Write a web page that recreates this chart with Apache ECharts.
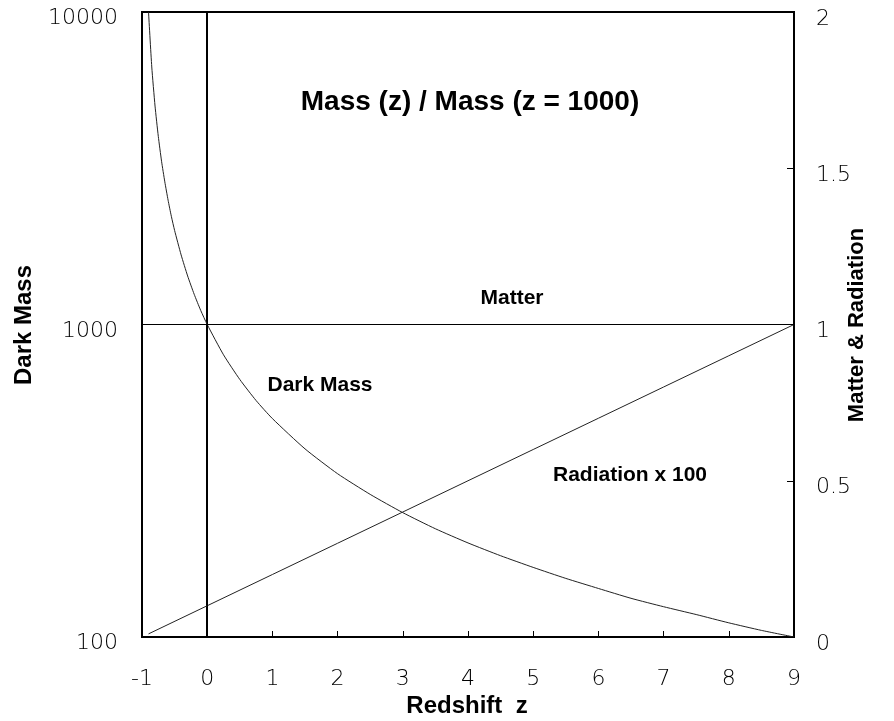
<!DOCTYPE html>
<html>
<head>
<meta charset="utf-8">
<script src="https://cdn.jsdelivr.net/npm/echarts@6/dist/echarts.min.js"></script>
<style>
html,body{margin:0;padding:0;background:#fff;}
#chart{width:894px;height:721px;}
</style>
</head>
<body>
<div id="chart"></div>
<script>
// Redshift z values and readings from the picture
const darkMassZ = [-0.9,-0.85,-0.8,-0.75,-0.7,-0.65,-0.6,-0.55,-0.5,-0.4,-0.3,-0.2,-0.1,0,0.25,0.5,0.75,1,1.5,2,2.5,3,3.5,4,4.5,5,5.5,6,6.5,7,7.5,8,8.5,9];
const darkMassValues = [10000,6670,5000,4000,3330,2860,2500,2220,2000,1670,1430,1250,1110,1000,800,667,571,500,400,333,286,250,222,200,182,167,154,143,133,125,118,111,105,100];
const radiationZ = [-0.9,0,1,2,3,4,5,6,7,8,9];
const radiationValues = [0.01,0.1,0.2,0.3,0.4,0.5,0.6,0.7,0.8,0.9,1.0];
const matterZ = [-1,9];
const matterValues = [1,1];
const xTicks = [-1,0,1,2,3,4,5,6,7,8,9];
const leftTicks = [100,1000,10000];
const rightTicks = [0,0.5,1,1.5,2];

const chart = echarts.init(document.getElementById('chart'));
const tickFont = {fontFamily:'DejaVu Sans', fontWeight:200, fontSize:22, color:'#000'};
const boldFont = 'Liberation Sans, Arial, sans-serif';

function pairs(xs, ys){ return xs.map((x,i)=>[x, ys[i]]); }

chart.setOption({
  animation:false,
  backgroundColor:'#fff',
  grid:{left:142, right:100, top:12, bottom:84, show:true, borderColor:'#000', borderWidth:2},
  xAxis:{
    type:'value', min:xTicks[0], max:xTicks[xTicks.length-1], interval:1,
    axisLine:{onZero:false, lineStyle:{color:'#000', width:2}},
    axisTick:{inside:true, length:6, lineStyle:{color:'#000', width:1}},
    axisLabel:Object.assign({margin:31}, tickFont),
    splitLine:{show:false}
  },
  yAxis:[
    {
      type:'log', logBase:10, min:leftTicks[0], max:leftTicks[leftTicks.length-1], position:'left',
      axisLine:{show:true, lineStyle:{color:'#000', width:2}},
      axisTick:{show:false},
      axisLabel:Object.assign({margin:24, verticalAlign:'top', lineHeight:13, formatter:function(v){return String(Math.round(v));}}, tickFont),
      splitLine:{show:false}
    },
    {
      type:'value', min:rightTicks[0], max:rightTicks[rightTicks.length-1], interval:0.5, position:'right',
      axisLine:{show:true, lineStyle:{color:'#000', width:2}},
      axisTick:{show:true, inside:true, length:7, lineStyle:{color:'#000', width:1}},
      axisLabel:Object.assign({margin:22, verticalAlign:'top', lineHeight:14}, tickFont),
      splitLine:{show:false}
    }
  ],
  series:[
    {
      name:'Dark Mass', type:'line', yAxisIndex:0, showSymbol:false, smooth:0.2,
      data:pairs(darkMassZ, darkMassValues),
      lineStyle:{color:'#222', width:1}
    },
    {
      name:'Radiation x 100', type:'line', yAxisIndex:1, showSymbol:false,
      data:pairs(radiationZ, radiationValues),
      lineStyle:{color:'#222', width:1}
    },
    {
      name:'Matter', type:'line', yAxisIndex:1, showSymbol:false,
      data:pairs(matterZ, matterValues),
      lineStyle:{color:'#000', width:1},
      markLine:{
        silent:true, symbol:['none','none'], label:{show:false},
        lineStyle:{color:'#000', width:1, type:'solid'},
        data:[{xAxis:0}]
      }
    }
  ],
  graphic:[
    {type:'text', x:470, y:102, style:{text:'Mass (z) / Mass (z = 1000)', font:'bold 28px '+boldFont, fill:'#000', textAlign:'center', textVerticalAlign:'middle'}},
    {type:'text', x:512, y:298, style:{text:'Matter', font:'bold 21px '+boldFont, fill:'#000', textAlign:'center', textVerticalAlign:'middle'}},
    {type:'text', x:320, y:385, style:{text:'Dark Mass', font:'bold 21px '+boldFont, fill:'#000', textAlign:'center', textVerticalAlign:'middle'}},
    {type:'text', x:630, y:475, style:{text:'Radiation x 100', font:'bold 21px '+boldFont, fill:'#000', textAlign:'center', textVerticalAlign:'middle'}},
    {type:'text', x:24, y:325, rotation:Math.PI/2, style:{text:'Dark Mass', font:'bold 24px '+boldFont, fill:'#000', textAlign:'center', textVerticalAlign:'middle'}},
    {type:'text', x:467, y:706, style:{text:'Redshift  z', font:'bold 24px '+boldFont, fill:'#000', textAlign:'center', textVerticalAlign:'middle'}},
    {type:'text', x:857, y:325, rotation:Math.PI/2, style:{text:'Matter & Radiation', font:'bold 22px '+boldFont, fill:'#000', textAlign:'center', textVerticalAlign:'middle'}}
  ]
});
</script>
</body>
</html>
